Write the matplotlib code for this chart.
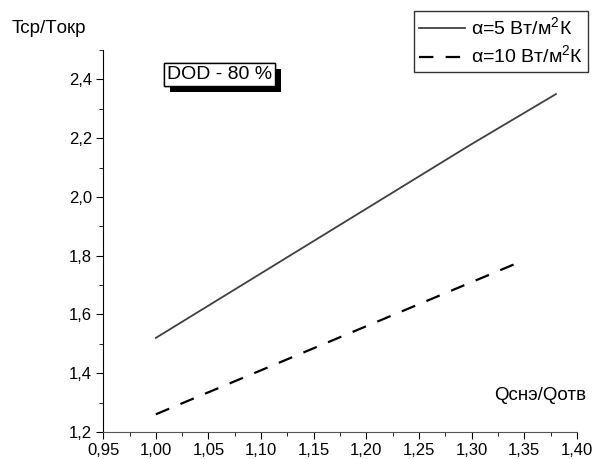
import matplotlib
matplotlib.use('Agg')
import matplotlib.pyplot as plt
import matplotlib.patheffects as pe
from matplotlib.ticker import MultipleLocator, FuncFormatter

plt.rcParams['font.family'] = ['Liberation Sans', 'DejaVu Sans']
plt.rcParams['mathtext.fontset'] = 'custom'
plt.rcParams['mathtext.rm'] = 'Liberation Sans'

# Data
q_a5 = [1.00, 1.10, 1.20, 1.30, 1.38]
t_a5 = [1.52, 1.74, 1.96, 2.18, 2.35]
q_a10 = [1.00, 1.10, 1.20, 1.30, 1.34]
t_a10 = [1.26, 1.41, 1.56, 1.71, 1.77]
labels = ['α=5 Вт/м$^\\mathregular{2}$К', 'α=10 Вт/м$^\\mathregular{2}$К']

fig = plt.figure(figsize=(5.93, 4.59), dpi=100)
ax = fig.add_axes([0.174, 0.059, 0.799, 0.832])

ax.plot(q_a5, t_a5, color='#404040', lw=1.3, label=labels[0])
ax.plot(q_a10, t_a10, color='black', lw=1.6, ls=(0, (6.5, 5.5)), label=labels[1])

ax.set_xlim(0.95, 1.40)
ax.set_ylim(1.2, 2.5)

ax.spines['top'].set_visible(False)
ax.spines['right'].set_visible(False)
ax.spines['bottom'].set_color('#555555')

ax.xaxis.set_major_locator(MultipleLocator(0.05))
ax.xaxis.set_minor_locator(MultipleLocator(0.025))
ax.yaxis.set_major_locator(MultipleLocator(0.2))
ax.yaxis.set_minor_locator(MultipleLocator(0.1))

comma2 = FuncFormatter(lambda v, p: f'{v:.2f}'.replace('.', ','))
comma1 = FuncFormatter(lambda v, p: f'{v:.1f}'.replace('.', ','))
ax.xaxis.set_major_formatter(comma2)
ax.yaxis.set_major_formatter(comma1)
ax.tick_params(which='major', direction='out', length=5, labelsize=12, pad=3)
ax.tick_params(which='minor', direction='out', length=3)

fig.text(0.02, 0.937, 'Tcp/Tокр', fontsize=13.5, va='center')
fig.text(0.834, 0.139, 'Qснэ/Qотв', fontsize=13.5, va='center')

t = ax.text(0.135, 0.935, 'DOD - 80 %', transform=ax.transAxes, fontsize=14,
            va='center', bbox=dict(boxstyle='square,pad=0.15', fc='white', ec='black', lw=1))
t.get_bbox_patch().set_path_effects([
    pe.withSimplePatchShadow(offset=(4, -4), shadow_rgbFace='black', alpha=1),
    pe.Normal()])

leg = fig.legend(loc='upper right', bbox_to_anchor=(0.992, 0.975), fontsize=14,
                 frameon=True, fancybox=False, handlelength=2.4, handletextpad=0.3,
                 borderpad=0.25, labelspacing=0.3, borderaxespad=0)
leg.get_frame().set_edgecolor('black')
leg.get_frame().set_linewidth(1)

fig.savefig('out.png', dpi=100)
